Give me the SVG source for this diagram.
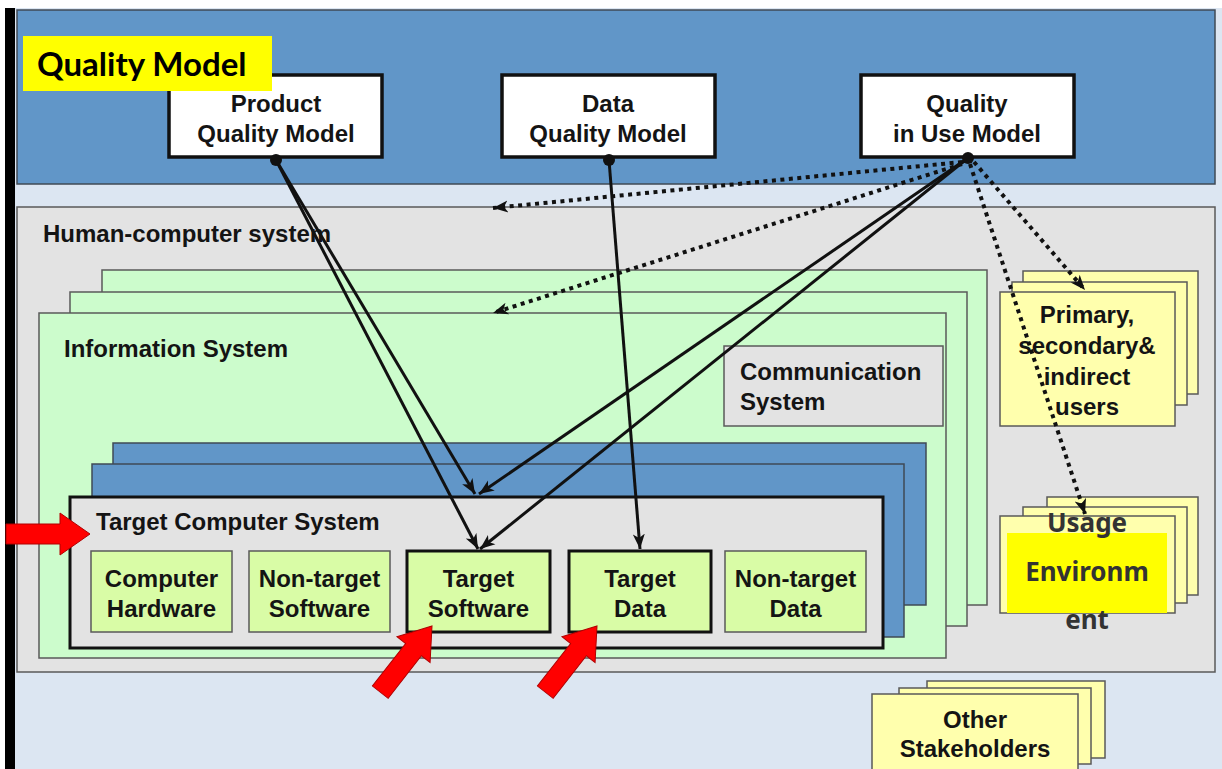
<svg xmlns="http://www.w3.org/2000/svg" width="1222" height="769" viewBox="0 0 1222 769">
  <style>
    .lbl { font-family: "Liberation Sans", Arial, sans-serif; font-weight: bold; font-size: 24px; fill: #141414; }
    .mid { text-anchor: middle; }
    .band { fill: #6196c8; stroke: #3f4a55; stroke-width: 1.5; }
    .gray { fill: #e3e3e3; stroke: #5a5a5a; stroke-width: 1.5; }
    .green { fill: #ccfccc; stroke: #5a5a5a; stroke-width: 1.5; }
    .lime { fill: #d9fca6; stroke: #5a5a5a; stroke-width: 1.5; }
    .lime-b { fill: #d9fca6; stroke: #111; stroke-width: 3; }
    .yel { fill: #ffffad; stroke: #5a5a5a; stroke-width: 1.5; }
    .model { fill: #ffffff; stroke: #111; stroke-width: 3.5; }
    .solid { fill: none; stroke: #111; stroke-width: 3; marker-end: url(#arrow); }
    .dotted { fill: none; stroke: #111; stroke-width: 4; stroke-dasharray: 4 4.5; marker-end: url(#arrow); }
    .red { fill: #ff0000; stroke: #b00000; stroke-width: 1; }
  </style>
  <defs>
    <marker id="arrow" markerUnits="userSpaceOnUse" markerWidth="16" markerHeight="14" refX="15" refY="7" orient="auto">
      <path d="M0,1 L15,7 L0,13 L4,7 z" fill="#111"/>
    </marker>
    <path id="redArrow" d="M0,0 L21,30 L10,30 L10,84 L-10,84 L-10,30 L-21,30 z"/>
  </defs>

  <!-- page background -->
  <rect x="0" y="0" width="1222" height="769" fill="#ffffff"/>
  <rect x="14" y="8" width="1208" height="761" fill="#dce6f2"/>
  <rect x="5" y="8" width="10" height="761" fill="#000000"/>

  <!-- quality model band -->
  <g id="quality-model-band">
    <rect class="band" x="17" y="10" width="1198" height="174"/>
  </g>

  <g id="product-quality-model">
    <rect class="model" x="169" y="75" width="213" height="82"/>
    <text class="lbl mid" x="276" y="112">Product</text>
    <text class="lbl mid" x="276" y="142">Quality Model</text>
  </g>
  <g id="data-quality-model">
    <rect class="model" x="502" y="75" width="213" height="82"/>
    <text class="lbl mid" x="608" y="112">Data</text>
    <text class="lbl mid" x="608" y="142">Quality Model</text>
  </g>
  <g id="quality-in-use-model">
    <rect class="model" x="861" y="75" width="213" height="82"/>
    <text class="lbl mid" x="967" y="112">Quality</text>
    <text class="lbl mid" x="967" y="142">in Use Model</text>
  </g>

  <!-- title tag sits over the product box corner -->
  <g id="quality-model-title">
    <rect x="23" y="36" width="249" height="55" fill="#ffff00"/>
    <text x="37" y="76" font-family="Lato, 'Open Sans', sans-serif" font-weight="bold" font-size="33" fill="#000">Quality Model</text>
  </g>

  <!-- human-computer system -->
  <g id="human-computer-system">
    <rect class="gray" x="17" y="207" width="1198" height="465"/>
    <text class="lbl" x="43" y="242">Human-computer system</text>
  </g>

  <g id="information-system">
    <rect class="green" x="102" y="270" width="885" height="335"/>
    <rect class="green" x="70" y="292" width="897" height="334"/>
    <rect class="green" x="39" y="313" width="907" height="345"/>
    <text class="lbl" x="64" y="357">Information System</text>
  </g>

  <g id="communication-system">
    <rect class="gray" x="724" y="346" width="219" height="80"/>
    <text class="lbl" x="740" y="380">Communication</text>
    <text class="lbl" x="740" y="410">System</text>
  </g>

  <g id="target-computer-system">
    <rect class="band" x="113" y="443" width="813" height="162"/>
    <rect class="band" x="92" y="464" width="812" height="173"/>
    <rect fill="#e3e3e3" stroke="#111" stroke-width="3" x="70" y="497" width="813" height="151"/>
    <text class="lbl" x="96" y="530">Target Computer System</text>
  </g>

  <g id="computer-hardware">
    <rect class="lime" x="91" y="551" width="141" height="81"/>
    <text class="lbl mid" x="161.5" y="587">Computer</text>
    <text class="lbl mid" x="161.5" y="617">Hardware</text>
  </g>
  <g id="non-target-software">
    <rect class="lime" x="249" y="551" width="141" height="81"/>
    <text class="lbl mid" x="319.5" y="587">Non-target</text>
    <text class="lbl mid" x="319.5" y="617">Software</text>
  </g>
  <g id="target-software">
    <rect class="lime-b" x="407" y="551" width="143" height="81"/>
    <text class="lbl mid" x="478.5" y="587">Target</text>
    <text class="lbl mid" x="478.5" y="617">Software</text>
  </g>
  <g id="target-data">
    <rect class="lime-b" x="569" y="551" width="142" height="81"/>
    <text class="lbl mid" x="640" y="587">Target</text>
    <text class="lbl mid" x="640" y="617">Data</text>
  </g>
  <g id="non-target-data">
    <rect class="lime" x="725" y="551" width="141" height="81"/>
    <text class="lbl mid" x="795.5" y="587">Non-target</text>
    <text class="lbl mid" x="795.5" y="617">Data</text>
  </g>

  <!-- stakeholder stacks -->
  <g id="users">
    <rect class="yel" x="1023" y="271" width="175" height="123"/>
    <rect class="yel" x="1012" y="282" width="175" height="123"/>
    <rect class="yel" x="1000" y="292" width="175" height="134"/>
    <text class="lbl mid" x="1087" y="323">Primary,</text>
    <text class="lbl mid" x="1087" y="354">secondary&amp;</text>
    <text class="lbl mid" x="1087" y="385">indirect</text>
    <text class="lbl mid" x="1087" y="415">users</text>
  </g>

  <g id="usage-environment">
    <rect class="yel" x="1047" y="497" width="151" height="98"/>
    <rect class="yel" x="1023" y="507" width="164" height="96"/>
    <rect class="yel" x="1000" y="516" width="175" height="97"/>
    <rect x="1007" y="533" width="160" height="80" fill="#ffff00"/>
    <g font-family="'Noto Sans', 'Open Sans', sans-serif" font-weight="bold" font-size="26" fill="#333333" text-anchor="middle">
      <text x="1087" y="532">Usage</text>
      <text x="1087" y="581">Environm</text>
      <text x="1087" y="629">ent</text>
    </g>
  </g>

  <g id="other-stakeholders">
    <rect class="yel" x="927" y="681" width="178" height="77"/>
    <rect class="yel" x="899" y="688" width="192" height="76"/>
    <rect class="yel" x="872" y="694" width="206" height="90"/>
    <text class="lbl mid" x="975" y="728">Other</text>
    <text class="lbl mid" x="975" y="757">Stakeholders</text>
  </g>

  <!-- connectors -->
  <g id="connectors">
    <path class="solid" d="M276,160 L475,494"/>
    <path class="solid" d="M276,160 L478,549"/>
    <path class="solid" d="M609,160 L640,549"/>
    <path class="solid" d="M968,158 L479,494"/>
    <path class="solid" d="M968,158 L480,549"/>
    <path class="dotted" d="M962,162 L493,208"/>
    <path class="dotted" d="M962,164 L493,313"/>
    <path class="dotted" d="M974,162 L1085,290"/>
    <path class="dotted" d="M970,164 L1085,514"/>
    <circle cx="276" cy="160" r="6" fill="#111"/>
    <circle cx="609" cy="160" r="6" fill="#111"/>
    <circle cx="968" cy="158" r="6" fill="#111"/>
  </g>

  <!-- red pointer arrows -->
  <g id="pointers">
    <use href="#redArrow" class="red" transform="translate(90,534) rotate(90)"/>
    <use href="#redArrow" class="red" transform="translate(432,626) rotate(38)"/>
    <use href="#redArrow" class="red" transform="translate(597,626) rotate(38)"/>
  </g>
</svg>
